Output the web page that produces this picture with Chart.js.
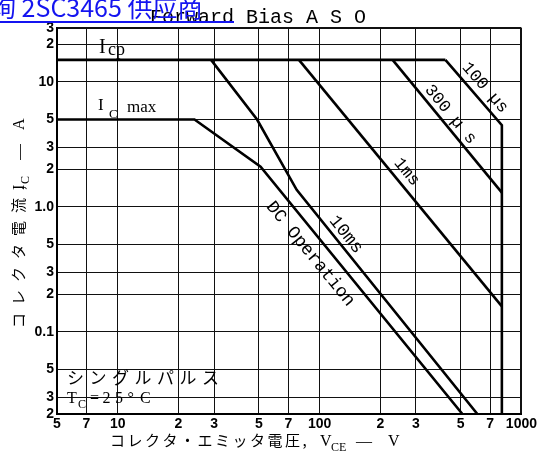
<!DOCTYPE html>
<html>
<head>
<meta charset="utf-8">
<script src="https://cdn.jsdelivr.net/npm/chart.js@4.4.1/dist/chart.umd.min.js"></script>
<style>
  html, body { margin: 0; padding: 0; background: #fff; }
  #wrap { width: 539px; height: 468px; position: relative; }
</style>
</head>
<body>
<div id="wrap"><canvas id="aso"></canvas></div>
<script>
// axis ticks (log-log); the scanned frame stops a little inside 0.02 A / 30 A
const vceTicks = [5, 7, 10, 20, 30, 50, 70, 100, 200, 300, 500, 700, 1000];
const vceLabels = ["5", "7", "10", "2", "3", "5", "7", "100", "2", "3", "5", "7", "1000"];
const icTicks = [0.022, 0.03, 0.05, 0.1, 0.2, 0.3, 0.5, 1, 2, 3, 5, 10, 20, 27];
const icLabels = ["2", "3", "5", "0.1", "2", "3", "5", "1.0", "2", "3", "5", "10", "2", "3"];

// SOA boundaries, VCE (V) vs IC (A)
const icpV = [5, 420];             const icpI = [15, 15];
const dcV = [5, 24, 51, 510];      const dcI = [5, 5, 2.1, 0.022];
const ms10V = [29, 49, 77, 605];   const ms10I = [15, 5, 1.37, 0.022];
const ms1V = [79, 800];            const ms1I = [15, 0.16];
const us300V = [230, 800];         const us300I = [15, 1.3];
const us100V = [420, 800, 800];    const us100I = [15, 4.5, 0.022];

const pts = (vs, is) => vs.map((v, k) => ({ x: v, y: is[k] }));
const line = (label, vs, is) => ({
  label, data: pts(vs, is),
  showLine: true, borderColor: "#000", borderWidth: 2.6,
  pointRadius: 0, fill: false
});

const serif = "'Liberation Serif', 'DejaVu Serif', serif";
const mono = "'Liberation Mono', 'DejaVu Sans Mono', monospace";
const jp = "'Noto Sans CJK JP', 'Noto Sans', sans-serif";

const notes = {
  id: "notes",
  beforeDraw(chart) {
    const ctx = chart.ctx;
    ctx.save();
    ctx.fillStyle = "#fff";
    ctx.fillRect(0, 0, chart.width, chart.height);
    ctx.restore();
  },
  afterDatasetsDraw(chart) {
    const { ctx, scales: { x, y } } = chart;
    const px = v => x.getPixelForValue(v), py = v => y.getPixelForValue(v);
    const ang = (vs, is, k) => Math.atan2(py(is[k + 1]) - py(is[k]), px(vs[k + 1]) - px(vs[k]));
    ctx.save();
    ctx.fillStyle = "#000";
    ctx.textBaseline = "middle";
    ctx.textAlign = "center";

    const along = (s, v, i, a, font) => {
      ctx.save();
      ctx.translate(px(v), py(i));
      ctx.rotate(a);
      ctx.font = font;
      ctx.fillText(s, 0, 0);
      ctx.restore();
    };
    along("100 µs", 660, 9, ang(us100V, us100I, 0), "17px " + mono);
    along("300 µ s", 445, 5.5, ang(us300V, us300I, 0), "17px " + mono);
    along("1ms", 270, 1.9, ang(ms1V, ms1I, 0), "17px " + mono);
    along("10ms", 135, 0.6, ang(ms10V, ms10I, 2), "18px " + mono);
    along("DC Operation", 90, 0.42, ang(dcV, dcI, 2), "18px " + mono);

    // limit labels
    ctx.textAlign = "left";
    ctx.textBaseline = "alphabetic";
    ctx.font = "20px " + serif;
    ctx.fillText("I", 99, 53);
    ctx.font = "18px " + serif;
    ctx.fillText("cp", 108, 55);
    ctx.font = "17px " + serif;
    ctx.fillText("I", 98, 110);
    ctx.font = "13px " + serif;
    ctx.fillText("C", 109, 118);
    ctx.font = "17px " + serif;
    ctx.fillText("max", 127, 112);

    // conditions
    ctx.font = "17px " + jp;
    [..."シングルパルス"].forEach((c, k) => ctx.fillText(c, 67 + k * 22.5, 384));
    ctx.font = "16px " + serif;
    ctx.fillText("T", 67, 403);
    ctx.font = "12px " + serif;
    ctx.fillText("C", 78, 408);
    ctx.font = "16px " + serif;
    [..."=25°C"].forEach((c, k) => ctx.fillText(c, 90 + k * 12.5, 403));
    ctx.restore();
  },
  afterDraw(chart) {
    const ctx = chart.ctx;
    ctx.save();
    ctx.fillStyle = "#000";
    ctx.textBaseline = "alphabetic";
    // title
    ctx.font = "20px " + mono;
    ctx.textAlign = "left";
    ctx.fillText("Forward Bias A S O", 150, 23);

    // x axis title
    ctx.font = "15px " + jp;
    [..."コレクタ・エミッタ電圧,"].forEach((c, k) => ctx.fillText(c, 110 + k * 17.5, 446));
    ctx.font = "16px " + serif;
    ctx.fillText("V", 320, 446);
    ctx.font = "12px " + serif;
    ctx.fillText("CE", 331, 451);
    ctx.font = "16px " + serif;
    ctx.fillText("—", 356, 446);
    ctx.fillText("V", 388, 446);

    // y axis title
    ctx.translate(24, 0);
    ctx.rotate(-Math.PI / 2);
    ctx.font = "15px " + jp;
    [..."コレクタ電流,"].forEach((c, k) => ctx.fillText(c, -328 + k * 23, 0));
    ctx.font = "16px " + serif;
    ctx.fillText("I", -190, 0);
    ctx.font = "12px " + serif;
    ctx.fillText("C", -184, 5);
    ctx.font = "16px " + serif;
    ctx.fillText("—", -160, 0);
    ctx.fillText("A", -130, 0);
    ctx.restore();

    // page link overlay
    ctx.save();
    ctx.fillStyle = "#1414f0";
    ctx.font = "25px " + jp;
    ctx.textAlign = "left";
    ctx.fillText("询 2SC3465 供应商", -9, 17);
    ctx.fillRect(0, 21, 234, 2);
    ctx.restore();
  }
};

new Chart(document.getElementById("aso"), {
  type: "scatter",
  data: {
    datasets: [
      line("Icp", icpV, icpI),
      line("DC Operation", dcV, dcI),
      line("10ms", ms10V, ms10I),
      line("1ms", ms1V, ms1I),
      line("300µs", us300V, us300I),
      line("100µs", us100V, us100I),
    ],
  },
  options: {
    responsive: true,
    maintainAspectRatio: false,
    animation: false,
    layout: { padding: { left: 0, right: 16, top: 28, bottom: 0 } },
    plugins: { legend: { display: false }, tooltip: { enabled: false } },
    scales: {
      x: {
        type: "logarithmic",
        min: 5, max: 1000,
        afterBuildTicks: s => { s.ticks = vceTicks.map(v => ({ value: v })); },
        afterFit: s => { s.height = 54; },
        ticks: {
          autoSkip: false, maxRotation: 0, padding: 2, color: "#000",
          font: { family: "'Liberation Sans', Arial, sans-serif", size: 14, weight: "bold" },
          callback: (v, k) => vceLabels[k],
        },
        grid: {
          color: "#111", drawTicks: false,
          lineWidth: c => (c.tick && c.tick.value === 1000 ? 2 : 1),
        },
        border: { color: "#000", width: 2 },
      },
      y: {
        type: "logarithmic",
        min: 0.022, max: 27,
        afterBuildTicks: s => { s.ticks = icTicks.map(v => ({ value: v })); },
        afterFit: s => { s.width = 57; },
        ticks: {
          autoSkip: false, padding: 3, color: "#000",
          font: { family: "'Liberation Sans', Arial, sans-serif", size: 14, weight: "bold" },
          callback: (v, k) => icLabels[k],
        },
        grid: {
          color: "#111", drawTicks: false,
          lineWidth: c => (c.tick && c.tick.value === 27 ? 2 : 1),
        },
        border: { color: "#000", width: 2 },
      },
    },
  },
  plugins: [notes],
});
</script>
</body>
</html>
